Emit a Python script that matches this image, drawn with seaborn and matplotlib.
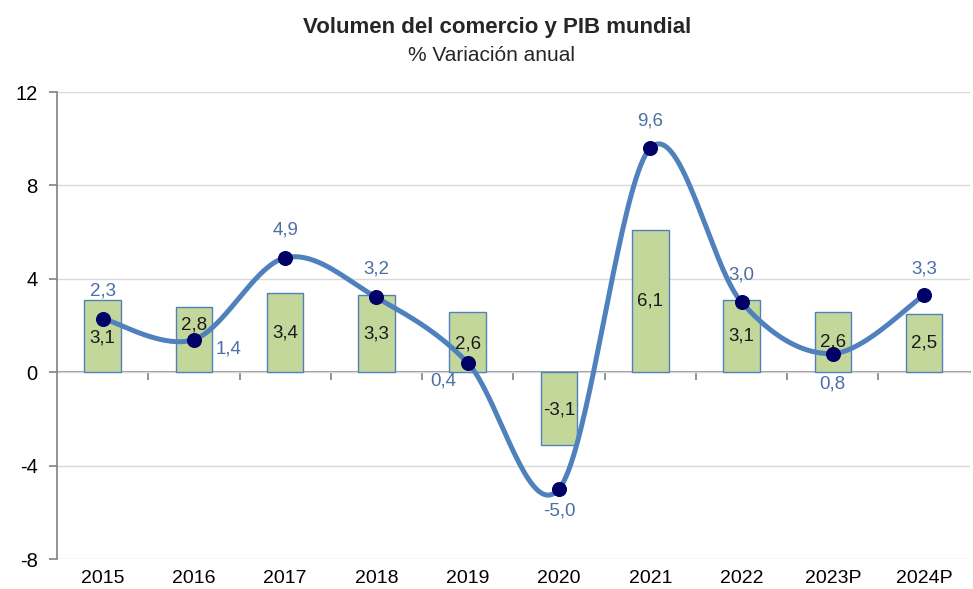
import numpy as np
import pandas as pd
import matplotlib
matplotlib.use("Agg")
import matplotlib.pyplot as plt
import seaborn as sns

# Data
years = ["2015", "2016", "2017", "2018", "2019", "2020", "2021", "2022", "2023P", "2024P"]
pib = [3.1, 2.8, 3.4, 3.3, 2.6, -3.1, 6.1, 3.1, 2.6, 2.5]
comercio = [2.3, 1.4, 4.9, 3.2, 0.4, -5.0, 9.6, 3.0, 0.8, 3.3]

# label offsets (pixels) for the trade line labels
line_label_offsets = [(0, 28), (35, -9), (0, 28), (0, 28), (-24, -18),
                      (0, -22), (0, 27), (0, 27), (0, -30), (0, 26)]
# vertical nudge (pixels) for bar labels
bar_label_offsets = [-2, 15, 0, 0, -2, -2, 0, 0, 0, 0]


def smooth_curve(x, y, n=40):
    """Bezier smoothing like Excel's smoothed line."""
    pts = np.column_stack([x, y]).astype(float)
    pts = np.vstack([pts[0], pts, pts[-1]])
    out = []
    t = np.linspace(0, 1, n)[:, None]
    for i in range(1, len(pts) - 2):
        p0, p1, p2, p3 = pts[i - 1], pts[i], pts[i + 1], pts[i + 2]
        c1 = p1 + (p2 - p0) / 6
        c2 = p2 - (p3 - p1) / 6
        seg = ((1 - t) ** 3) * p1 + 3 * ((1 - t) ** 2) * t * c1 + 3 * (1 - t) * t ** 2 * c2 + t ** 3 * p2
        out.append(seg if i == 1 else seg[1:])
    out = np.vstack(out)
    return out[:, 0], out[:, 1]


sns.set_theme(style="white")
plt.rcParams["font.family"] = ["Liberation Sans", "DejaVu Sans"]
plt.rcParams["axes.unicode_minus"] = False

df = pd.DataFrame({"year": years, "pib": pib, "comercio": comercio})
df["pos"] = np.arange(len(years))

fig = plt.figure(figsize=(9.73, 5.89), dpi=100)
ax = fig.add_axes([0.0586, 0.0509, 0.938, 0.7929])

ymin, ymax = -8, 12
ax.set_ylim(ymin, ymax)
ax.set_xlim(-0.5, len(years) - 0.5)
ax.set_yticks([-8, -4, 0, 4, 8, 12])
ax.yaxis.grid(True, color="#d9d9d9", linewidth=1)
ax.set_axisbelow(True)

# bars: PIB mundial
sns.barplot(data=df, x="pos", y="pib", native_scale=True, width=0.4,
            color="#c4d79b", edgecolor="#4f81bd", linewidth=1,
            saturation=1, ax=ax, zorder=2)

# smoothed line: volumen del comercio
xs, ys = smooth_curve(df["pos"], df["comercio"])
ax.plot(xs, ys, color="#4f81bd", linewidth=3.6, zorder=3, solid_capstyle="round")
sns.scatterplot(data=df, x="pos", y="comercio", color="#000066", s=100,
                edgecolor="#000066", ax=ax, zorder=4, legend=False)

# labels
px = 0.72  # pixels -> points at 100 dpi
for i, row in df.iterrows():
    ax.annotate(f"{row['pib']:.1f}".replace(".", ","), (row["pos"], row["pib"] / 2),
                xytext=(0, bar_label_offsets[i] * px), textcoords="offset points",
                ha="center", va="center", fontsize=13.5, color="#1a1a1a", zorder=5)
    dx, dy = line_label_offsets[i]
    ax.annotate(f"{row['comercio']:.1f}".replace(".", ","),
                (row["pos"], row["comercio"]), xytext=(dx * px, dy * px),
                textcoords="offset points", ha="center", va="center",
                fontsize=13.5, color="#4a6fa5", zorder=5)

ax.set_xticks(df["pos"])
ax.set_xticklabels(years, fontsize=14, color="#000000")
ax.tick_params(axis="x", length=0, pad=8)
ax.tick_params(axis="y", length=6, direction="out", color="#868686",
               labelsize=14.5, labelcolor="#000000", left=True, pad=8)
ax.set_xlabel("")
ax.set_ylabel("")

for side in ["top", "right", "bottom"]:
    ax.spines[side].set_visible(False)
ax.spines["left"].set_color("#868686")

# category axis crossing at zero
zero_loc = (0 - ymin) / (ymax - ymin)
sec = ax.secondary_xaxis(zero_loc)
sec.set_xticks(np.arange(0.5, len(years) - 1, 1.0))
sec.set_xticklabels([])
sec.tick_params(axis="x", length=6, direction="out", color="#868686")
sec.spines["bottom"].set_color("#868686")

fig.text(0.511, 0.954, "Volumen del comercio y PIB mundial", ha="center",
         va="center", fontsize=16, fontweight="bold")
fig.text(0.505, 0.906, "% Variación anual", ha="center", va="center", fontsize=15)

fig.savefig("out.png", dpi=100, facecolor="white")
